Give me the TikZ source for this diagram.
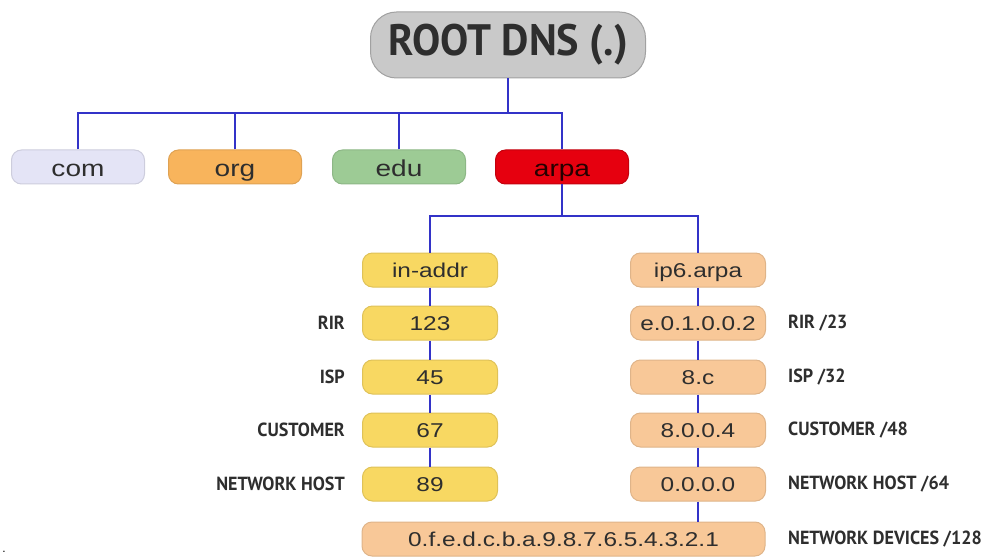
\documentclass[tikz,border=0pt]{standalone}
\usepackage{fontspec}
\usepackage{graphicx}
\setmainfont{Liberation Sans}
\newfontfamily\lblfont{PT Sans}
\definecolor{conn}{HTML}{3333C8}
\definecolor{rootc}{HTML}{C9C9C9}
\definecolor{comc}{HTML}{E4E4F6}
\definecolor{orgc}{HTML}{F8B45C}
\definecolor{educ}{HTML}{9DCB95}
\definecolor{arpac}{HTML}{E6000F}
\definecolor{yel}{HTML}{F8D862}
\definecolor{pch}{HTML}{F8C898}
\definecolor{txt}{HTML}{2E2E2E}
\newcommand\wbox[1]{\scalebox{1.22}[1]{#1}}
\newcommand\nlbl[1]{\scalebox{0.95}[1]{#1}}
\begin{document}
\begin{tikzpicture}[x=1pt,y=-1pt,
  box/.style={rounded corners=10pt, minimum height=34pt, inner sep=0pt, text=txt,
    font=\fontsize{20}{22}\selectfont, line width=1pt, text height=15.4pt, text depth=0pt},
  topbox/.style={box, minimum width=133pt, font=\fontsize{23}{26}\selectfont, text height=18.5pt},
  midbox/.style={box, minimum width=135pt},
  lab/.style={inner sep=0pt, text=txt, font=\lblfont\bfseries\fontsize{19}{21}\selectfont},
  link/.style={draw=conn, line width=2pt}]
\useasboundingbox (0,0) rectangle (983,559);
% root
\node[rounded corners=26pt, minimum width=275pt, minimum height=66pt, fill=rootc, draw=rootc!80!black, line width=1pt,
  text=txt, font=\lblfont\bfseries\fontsize{44}{48}\selectfont] (root) at (508,45) {\scalebox{0.96}[1]{ROOT DNS (.)}};
% top level
\node[topbox, fill=comc, draw=comc!90!black] (com) at (78,167) {\wbox{com}};
\node[topbox, fill=orgc, draw=orgc!90!black] (org) at (235,167) {\wbox{org}};
\node[topbox, fill=educ, draw=educ!90!black] (edu) at (399,167) {\wbox{edu}};
\node[topbox, fill=arpac, draw=arpac!85!black, text=black!85!red] (arpa) at (562,167) {\wbox{arpa}};
% second level
\node[midbox, fill=yel, draw=yel!90!black] (inaddr) at (430,270) {\wbox{in-addr}};
\node[midbox, fill=pch, draw=pch!90!black] (ip6) at (698,270) {\wbox{ip6.arpa}};
% in-addr chain
\node[midbox, fill=yel, draw=yel!90!black] (a1) at (430,323) {\wbox{123}};
\node[midbox, fill=yel, draw=yel!90!black] (a2) at (430,377) {\wbox{45}};
\node[midbox, fill=yel, draw=yel!90!black] (a3) at (430,430) {\wbox{67}};
\node[midbox, fill=yel, draw=yel!90!black] (a4) at (430,484) {\wbox{89}};
% ip6 chain
\node[midbox, fill=pch, draw=pch!90!black] (b1) at (698,323) {\wbox{e.0.1.0.0.2}};
\node[midbox, fill=pch, draw=pch!90!black] (b2) at (698,377) {\wbox{8.c}};
\node[midbox, fill=pch, draw=pch!90!black] (b3) at (698,430) {\wbox{8.0.0.4}};
\node[midbox, fill=pch, draw=pch!90!black] (b4) at (698,484) {\wbox{0.0.0.0}};
\node[box, minimum width=403pt, fill=pch, draw=pch!90!black] (b5) at (563.5,539) {\wbox{0.f.e.d.c.b.a.9.8.7.6.5.4.3.2.1}};
% left labels
\node[lab, anchor=east] (l1) at (345,323) {\nlbl{RIR}};
\node[lab, anchor=east] (l2) at (345,377) {\nlbl{ISP}};
\node[lab, anchor=east] (l3) at (345,430) {\nlbl{CUSTOMER}};
\node[lab, anchor=east] (l4) at (345,484) {\nlbl{NETWORK HOST}};
% right labels
\node[lab, anchor=west] (r1) at (788,323) {\nlbl{RIR /23}};
\node[lab, anchor=west] (r2) at (788,377) {\nlbl{ISP /32}};
\node[lab, anchor=west] (r3) at (788,430) {\nlbl{CUSTOMER /48}};
\node[lab, anchor=west] (r4) at (788,484) {\nlbl{NETWORK HOST /64}};
\node[lab, anchor=west] (r5) at (788,539) {\nlbl{NETWORK DEVICES /128}};
% stray dot
\node[inner sep=0pt, font=\fontsize{12}{12}\selectfont] (dot) at (4,552) {.};
% connectors
\coordinate (bar) at (0,113);
\coordinate (bar2) at (0,216);
\draw[link] (root.south) -- (root.south |- bar);
\draw[link] (com.north) |- (arpa.north |- bar) -- (arpa.north);
\draw[link] (org.north) -- (org.north |- bar);
\draw[link] (edu.north) -- (edu.north |- bar);
\draw[link] (arpa.south) -- (arpa.south |- bar2);
\draw[link] (inaddr.north) |- (ip6.north |- bar2) -- (ip6.north);
\draw[link] (inaddr) -- (a1);
\draw[link] (a1) -- (a2);
\draw[link] (a2) -- (a3);
\draw[link] (a3) -- (a4);
\draw[link] (ip6) -- (b1);
\draw[link] (b1) -- (b2);
\draw[link] (b2) -- (b3);
\draw[link] (b3) -- (b4);
\draw[link] (b4.south) -- (b4.south |- b5.north);
\end{tikzpicture}
\end{document}
